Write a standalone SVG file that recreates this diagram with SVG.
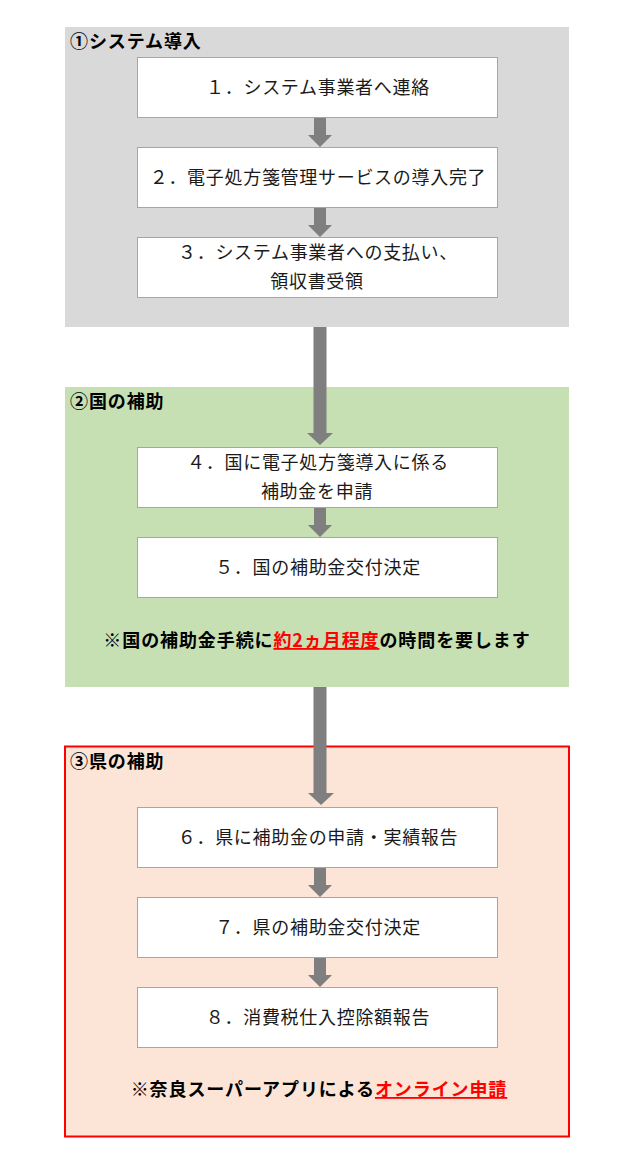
<svg xmlns="http://www.w3.org/2000/svg" width="640" height="1165" viewBox="0 0 640 1165">
<style>
text{font-family:"Noto Sans CJK JP","Noto Sans CJK SC",sans-serif;}
.box{fill:#FFFFFF;stroke:#A6A6A6;stroke-width:1;}
.bt{font-size:18px;letter-spacing:0.7px;fill:#1a1a1a;text-anchor:middle;}
.title{font-size:18px;font-weight:bold;fill:#000;letter-spacing:0.9px;}
.note{font-size:18px;font-weight:bold;fill:#000;text-anchor:middle;letter-spacing:0.9px;}
.red{fill:#FF0000;text-decoration:underline;}
.arr{fill:#7F7F7F;}
</style>
<rect width="640" height="1165" fill="#FFFFFF"/>
<g id="section1">
<rect x="65" y="27" width="504" height="300" fill="#D9D9D9"/>
<text class="title" x="70" y="48">①システム導入</text>
</g>
<g id="section2">
<rect x="65" y="387" width="504" height="300" fill="#C6E0B4"/>
<text class="title" x="70" y="408">②国の補助</text>
<text class="note" x="317" y="647">※国の補助金手続に<tspan class="red">約2ヵ月程度</tspan>の時間を要します</text>
</g>
<g id="section3">
<rect x="65" y="746.5" width="504" height="390" fill="#FCE4D6" stroke="#FF0000" stroke-width="2"/>
<text class="title" x="70" y="768">③県の補助</text>
<text class="note" x="319" y="1096">※奈良スーパーアプリによる<tspan class="red">オンライン申請</tspan></text>
</g>
<g id="node1"><rect class="box" x="137.5" y="57.5" width="360" height="60"/><text class="bt" x="318" y="93.5">１．システム事業者へ連絡</text></g>
<g id="node2"><rect class="box" x="137.5" y="147.5" width="360" height="60"/><text class="bt" x="318" y="183.5">２．電子処方箋管理サービスの導入完了</text></g>
<g id="node3"><rect class="box" x="137.5" y="237.5" width="360" height="60"/><text class="bt" x="318" y="258.5">３．システム事業者への支払い、</text><text class="bt" x="317" y="287.5">領収書受領</text></g>
<g id="node4"><rect class="box" x="137.5" y="447.5" width="360" height="60"/><text class="bt" x="318" y="468.5">４．国に電子処方箋導入に係る</text><text class="bt" x="317" y="497.5">補助金を申請</text></g>
<g id="node5"><rect class="box" x="137.5" y="537.5" width="360" height="60"/><text class="bt" x="318" y="573.5">５．国の補助金交付決定</text></g>
<g id="node6"><rect class="box" x="137.5" y="807.5" width="360" height="60"/><text class="bt" x="318" y="843.5">６．県に補助金の申請・実績報告</text></g>
<g id="node7"><rect class="box" x="137.5" y="897.5" width="360" height="60"/><text class="bt" x="318" y="933.5">７．県の補助金交付決定</text></g>
<g id="node8"><rect class="box" x="137.5" y="987.5" width="360" height="60"/><text class="bt" x="318" y="1023.5">８．消費税仕入控除額報告</text></g>
<g id="connectors">
<polygon class="arr" points="314,118 326,118 326,135 332,135 320,147 308,135 314,135"/>
<polygon class="arr" points="314,208 326,208 326,225 332,225 320,237 308,225 314,225"/>
<polygon class="arr" points="313.5,327 326.5,327 326.5,433 333,433 320,445 307,433 313.5,433"/>
<polygon class="arr" points="314,508 326,508 326,525 332,525 320,537 308,525 314,525"/>
<polygon class="arr" points="313.5,687 326.5,687 326.5,793 334,793 321,805 308,793 313.5,793"/>
<polygon class="arr" points="314,868 326,868 326,885 332,885 320,897 308,885 314,885"/>
<polygon class="arr" points="314,958 326,958 326,975 332,975 320,987 308,975 314,975"/>
</g>
</svg>
